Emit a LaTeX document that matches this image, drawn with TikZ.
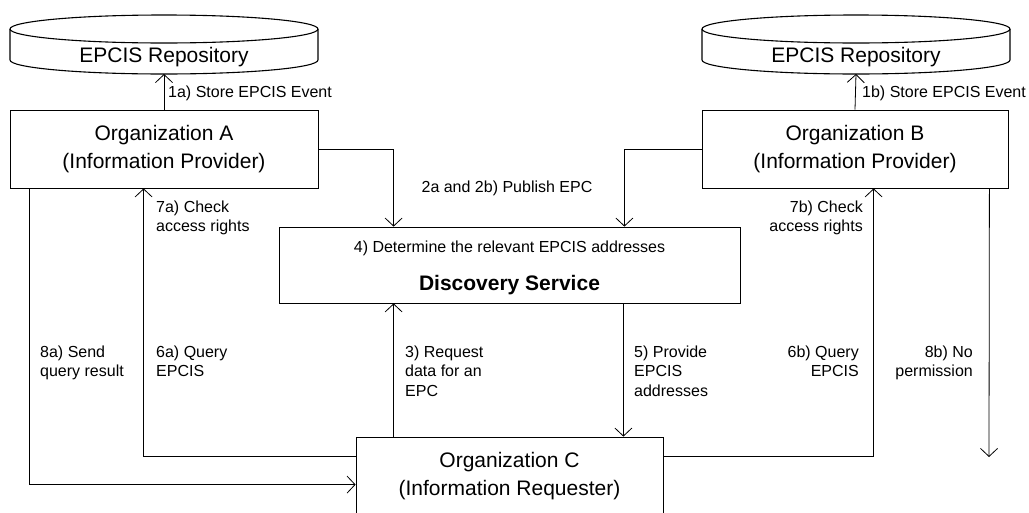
\documentclass[tikz,border=0pt]{standalone}
\usepackage{fontspec}
\setmainfont{Liberation Sans}
\usetikzlibrary{arrows.meta}
\begin{document}
\begin{tikzpicture}[x=1pt,y=-1pt,
  box/.style={draw,line width=0.8pt,inner sep=0pt,font=\fontsize{21}{28}\selectfont,align=center},
  lab/.style={font=\fontsize{16}{19.5}\selectfont,inner sep=0pt},
  conn/.style={line width=0.8pt},
  arr/.style={line width=0.8pt,-{Straight Barb[length=8pt,width=17pt]}},
  cyl/.style={line width=1.1pt}]
\useasboundingbox (0,0) rectangle (1029,512);

% repositories
\draw[cyl] (164,29) ellipse[x radius=154, y radius=14];
\draw[cyl] (10,29) -- (10,60) arc[start angle=180, end angle=0, x radius=154, y radius=14] -- (318,29);
\node[font=\fontsize{21}{25}\selectfont,inner sep=0pt] (repA) at (164,57) {EPCIS Repository};
\coordinate (repAb) at (164,74);

\draw[cyl] (856,29) ellipse[x radius=154, y radius=14];
\draw[cyl] (702,29) -- (702,60) arc[start angle=180, end angle=0, x radius=154, y radius=14] -- (1010,29);
\node[font=\fontsize{21}{25}\selectfont,inner sep=0pt] (repB) at (856,57) {EPCIS Repository};
\coordinate (repBb) at (856,74);

% boxes
\node[box,minimum width=308pt,minimum height=78pt] (orgA) at (164,149) {Organization A\\(Information Provider)};
\node[box,minimum width=306pt,minimum height=78pt] (orgB) at (855,149) {Organization B\\(Information Provider)};
\node[box,minimum width=307pt,minimum height=78pt] (orgC) at (509.5,476) {Organization C\\(Information Requester)};
\node[draw,line width=0.8pt,minimum width=461pt,minimum height=76pt] (ds) at (509.5,265) {};
\node[lab,anchor=base] (dsT) at (509.5,252) {4) Determine the relevant EPCIS addresses};
\node[font=\fontsize{21}{25}\selectfont\bfseries,inner sep=0pt,anchor=base] (dsN) at (509.5,290) {Discovery Service};

% connectors
\draw[arr] (orgA.north) -- (repAb);
\draw[arr] (orgB.north) -- (repBb);
\draw[arr] (orgA.east) -| ([xshift=115pt]ds.north west);
\draw[arr] (orgB.west) -| ([xshift=-116pt]ds.north east);
\draw[arr] ([xshift=38pt]orgC.north west) -- ([xshift=38pt]orgC.north west |- ds.south);
\draw[arr] ([xshift=-117pt]ds.south east) -- ([xshift=-117pt]ds.south east |- orgC.north);
\draw[arr] ([yshift=-20pt]orgC.north west) -| ([xshift=134pt]orgA.south west);
\draw[arr] ([yshift=-20pt]orgC.north east) -| ([xshift=172pt]orgB.south west);
\draw[arr] ([xshift=20pt]orgA.south west) |- ([yshift=-48pt]orgC.north west);
\coordinate (nb) at (989,457);
\draw[arr] ([xshift=-19pt]orgB.south east) -- (nb);

% labels (base anchor = baseline of last line)
\node[lab,anchor=base west] (l1a) at (168,97) {1a) Store EPCIS Event};
\node[lab,anchor=base west] (l1b) at (862,97) {1b) Store EPCIS Event};
\node[lab,anchor=base] (l2) at (507,192) {2a and 2b) Publish EPC};
\node[lab,anchor=base west,align=left] (l7a) at (156,231.5) {7a) Check\\access rights};
\node[lab,anchor=base east,align=right] (l7b) at (863,231.5) {7b) Check\\access rights};
\node[lab,anchor=base west,align=left] (l8a) at (40,376.5) {8a) Send\\query result};
\node[lab,anchor=base west,align=left] (l6a) at (156,376.5) {6a) Query\\EPCIS};
\node[lab,anchor=base west,align=left] (l3) at (405,396) {3) Request\\data for an\\EPC};
\node[lab,anchor=base west,align=left] (l5) at (634,396) {5) Provide\\EPCIS\\addresses};
\node[lab,anchor=base east,align=right] (l6b) at (859,376.5) {6b) Query\\EPCIS};
\node[lab,anchor=base east,align=right] (l8b) at (973,376.5) {8b) No\\permission};
\end{tikzpicture}
\end{document}
